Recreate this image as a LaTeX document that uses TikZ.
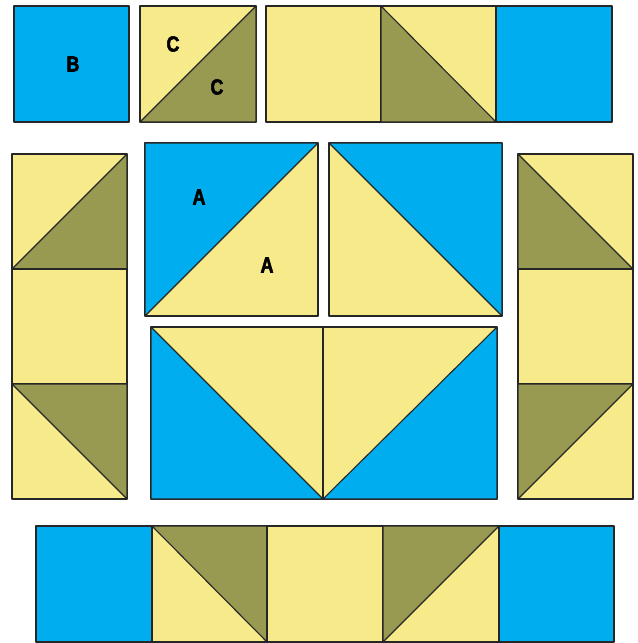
\documentclass[tikz,border=0pt]{standalone}
\usepackage{fontspec}
\setmainfont{Liberation Sans}
\newfontfamily\labelfont[FakeStretch=0.82,FakeBold=2.5]{Liberation Sans}
\usepackage{xcolor}
\usepackage{tikz}

\definecolor{skyblue}{RGB}{0,174,239}
\definecolor{sandyellow}{RGB}{246,234,138}
\definecolor{mossgreen}{RGB}{153,154,82}

\begin{document}
\begin{tikzpicture}[
  x=0.1mm,y=-0.1mm,
  patch/.style={draw=black!85,line width=0.11mm,line join=round},
  sky/.style={patch,fill=skyblue},
  sand/.style={patch,fill=sandyellow},
  moss/.style={patch,fill=mossgreen},
  lab/.style={font=\labelfont\bfseries\fontsize{6.2}{6}\selectfont,inner sep=0pt}
]
\useasboundingbox (0,0) rectangle (637,643);
% top row
\path[sky] (14,6) rectangle (129,122);
\path[sand] (140,6) rectangle (256,122);
\path[moss] (140,122) -- (256,6) -- (256,122) -- cycle;
\path[sand] (266,6) rectangle (381,122);
\path[sand] (381,6) rectangle (496,122);
\path[moss] (381,6) -- (496,122) -- (381,122) -- cycle;
\path[sky] (496,6) rectangle (612,122);
% left column
\path[sand] (12,154) rectangle (127,269);
\path[moss] (12,269) -- (127,154) -- (127,269) -- cycle;
\path[sand] (12,269) rectangle (127,384);
\path[sand] (12,384) rectangle (127,499);
\path[moss] (12,384) -- (127,384) -- (127,499) -- cycle;
% right column
\path[sand] (518,154) rectangle (633,269);
\path[moss] (518,154) -- (633,269) -- (518,269) -- cycle;
\path[sand] (518,269) rectangle (633,384);
\path[sand] (518,384) rectangle (633,499);
\path[moss] (518,384) -- (633,384) -- (518,499) -- cycle;
% centre blocks
\path[sand] (145,143) rectangle (318,316);
\path[sky] (145,143) -- (318,143) -- (145,316) -- cycle;
\path[sand] (329,143) rectangle (502,316);
\path[sky] (329,143) -- (502,143) -- (502,316) -- cycle;
\path[sand] (151,327) rectangle (323,499);
\path[sky] (151,327) -- (323,499) -- (151,499) -- cycle;
\path[sand] (323,327) rectangle (497,499);
\path[sky] (323,499) -- (497,327) -- (497,499) -- cycle;
% bottom row
\path[sky] (36,526) rectangle (152,642);
\path[sand] (152,526) rectangle (267,642);
\path[moss] (152,526) -- (267,526) -- (267,642) -- cycle;
\path[sand] (267,526) rectangle (383,642);
\path[sand] (383,526) rectangle (499,642);
\path[moss] (383,526) -- (499,526) -- (383,642) -- cycle;
\path[sky] (499,526) rectangle (614,642);
% piece labels
\node[lab] (labB) at (73,64) {B};
\node[lab] (labCtop) at (173,44) {C};
\node[lab] (labCbot) at (217,87) {C};
\node[lab] (labAtop) at (199,197) {A};
\node[lab] (labAbot) at (267,265) {A};
\end{tikzpicture}
\end{document}
